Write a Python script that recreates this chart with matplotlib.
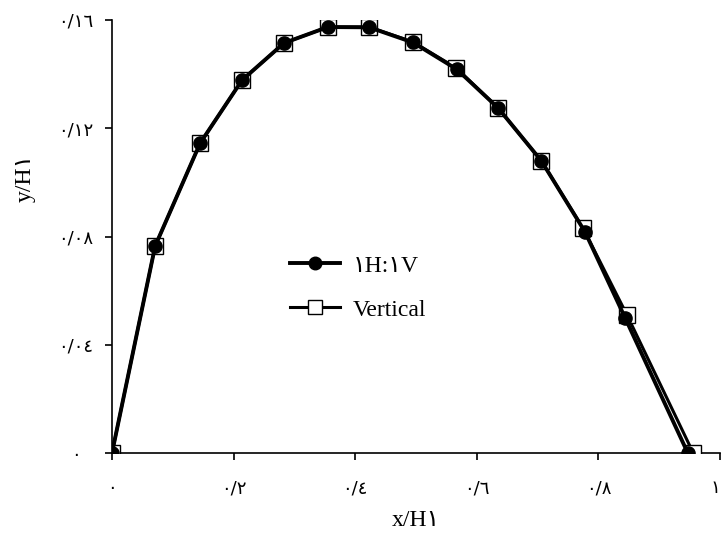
import matplotlib
matplotlib.use('Agg')
import matplotlib.pyplot as plt

# data
x_slope = [0, 0.071, 0.145, 0.214, 0.283, 0.355, 0.423, 0.495, 0.567, 0.635, 0.706, 0.778, 0.844, 0.947]
y_slope = [0, 0.0765, 0.1145, 0.1378, 0.1515, 0.1574, 0.1573, 0.1517, 0.1418, 0.1275, 0.108, 0.0817, 0.0499, 0]

x_vert = [0, 0.071, 0.145, 0.214, 0.283, 0.355, 0.423, 0.495, 0.566, 0.635, 0.706, 0.775, 0.847, 0.956]
y_vert = [0, 0.0765, 0.1145, 0.1378, 0.1515, 0.1574, 0.1574, 0.1519, 0.1423, 0.1275, 0.108, 0.083, 0.051, 0]

xticks = [0, 0.2, 0.4, 0.6, 0.8, 1.0]
xtick_labels = ['٠', '٠/٢', '٠/٤', '٠/٦', '٠/٨', '١']
yticks = [0, 0.04, 0.08, 0.12, 0.16]
ytick_labels = ['٠', '٠/٠٤', '٠/٠٨', '٠/١٢', '٠/١٦']

fonts = ['Liberation Serif', 'DejaVu Sans']
plt.rcParams['font.family'] = fonts

fig = plt.figure(figsize=(7.21, 5.33), dpi=100)
ax = fig.add_axes([112 / 721, 1 - 453 / 533, 608 / 721, 433 / 533])

ax.plot(x_vert, y_vert, color='black', lw=2.2, marker='s', ms=11,
        mfc='white', mec='black', mew=1.0, label='Vertical', zorder=3)
ax.plot(x_slope, y_slope, color='black', lw=2.8, marker='o', ms=9.5,
        mfc='black', mec='black', label='١H:١V', zorder=4)

ax.set_xlim(0, 1)
ax.set_ylim(0, 0.16)
ax.spines['top'].set_visible(False)
ax.spines['right'].set_visible(False)
ax.spines['left'].set_linewidth(1.2)
ax.spines['bottom'].set_linewidth(1.2)

ax.set_xticks(xticks)
ax.set_xticklabels(xtick_labels, fontsize=13, family='DejaVu Sans')
ax.set_yticks(yticks)
ax.set_yticklabels(ytick_labels, fontsize=13, family='DejaVu Sans')
ax.tick_params(axis='x', length=5, width=1.2, pad=14)
ax.tick_params(axis='y', length=5, width=1.2, pad=21)
for lab in ax.get_yticklabels():
    lab.set_ha('center')
ax.get_xticklabels()[-1].set_ha('right')

ax.set_xlabel('x/H١', fontsize=17, family=fonts)
ax.set_ylabel('y/H١', fontsize=17, family=fonts)
ax.xaxis.set_label_coords(0.5, -0.155)
ax.xaxis.label.set_va('center')
ax.yaxis.set_label_coords(-0.143, 0.635)
ax.yaxis.label.set_va('center')

handles, labels = ax.get_legend_handles_labels()
ax.legend(handles[::-1], labels[::-1], loc='upper left', bbox_to_anchor=(0.293, 0.457),
          frameon=False, fontsize=17, handlelength=2.1, handletextpad=0.55,
          labelspacing=0.95, borderpad=0, borderaxespad=0, markerscale=0.95)

fig.savefig('out.png', dpi=100)
